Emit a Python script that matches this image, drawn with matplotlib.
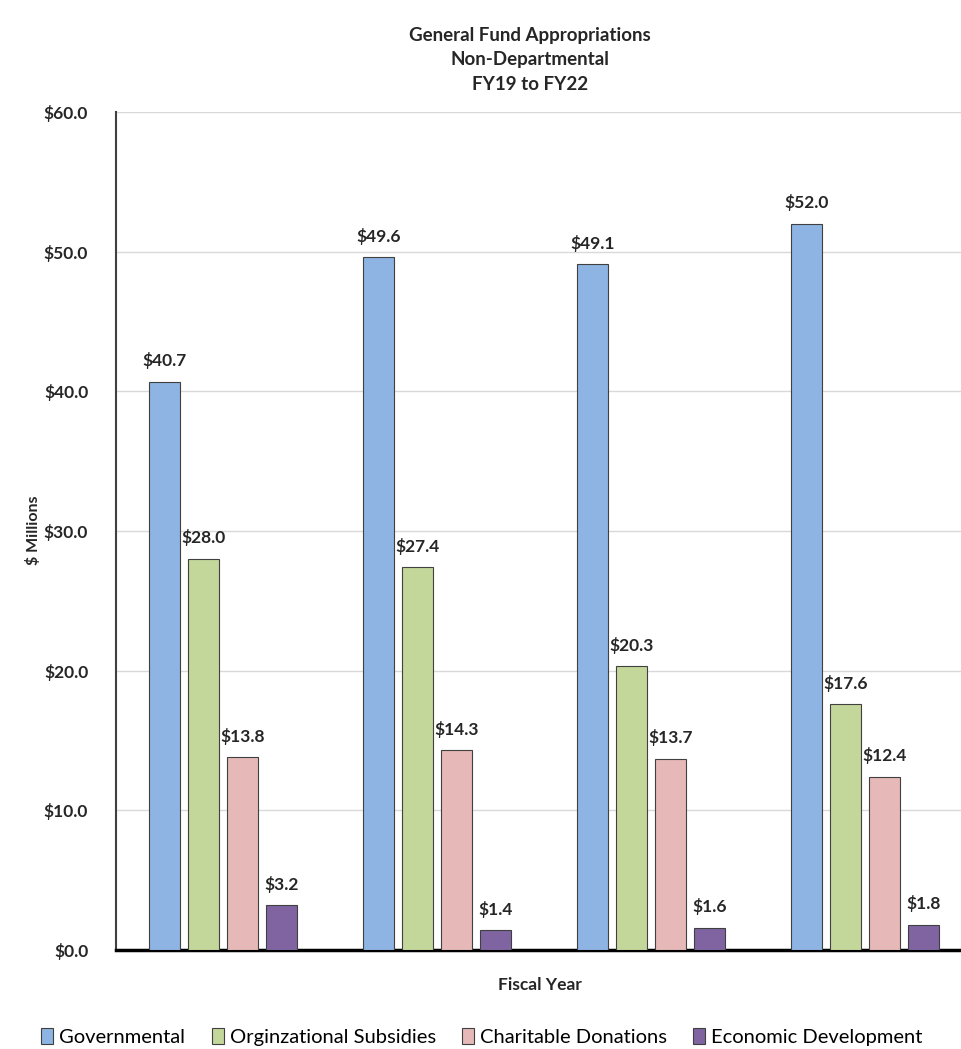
import numpy as np
import matplotlib.pyplot as plt
from matplotlib.ticker import FuncFormatter

plt.rcParams['font.family'] = ['Lato', 'DejaVu Sans']

years = ["FY19", "FY20", "FY21", "FY22"]
series = ["Governmental", "Orginzational Subsidies", "Charitable Donations", "Economic Development"]
governmental = [40.7, 49.6, 49.1, 52.0]
subsidies = [28.0, 27.4, 20.3, 17.6]
donations = [13.8, 14.3, 13.7, 12.4]
econ_dev = [3.2, 1.4, 1.6, 1.8]
colors = ["#8DB4E2", "#C4D79B", "#E6B9B8", "#8064A2"]


def main():
    fig = plt.figure(figsize=(9.61, 10.49), dpi=100)
    ax = fig.add_axes([116 / 961, 1 - 950 / 1049, (972 - 116) / 961, (950 - 112) / 1049])

    x = np.arange(len(years))
    width = 0.145
    step = 0.182
    values = [governmental, subsidies, donations, econ_dev]
    for i, (name, vals, c) in enumerate(zip(series, values, colors)):
        pos = x + (i - 1.5) * step
        bars = ax.bar(pos, vals, width, color=c, edgecolor="#404040", linewidth=0.8,
                      label=name, zorder=3)
        for b, v in zip(bars, vals):
            ax.text(b.get_x() + b.get_width() / 2, v + 0.9, f"${v:.1f}",
                    ha="center", va="bottom", fontsize=12.5, fontweight="bold",
                    color="#262626")

    ax.set_xlim(-0.5, 3.5)
    ax.set_ylim(0, 60)
    ax.set_yticks(np.arange(0, 61, 10))
    ax.yaxis.set_major_formatter(FuncFormatter(lambda v, p: f"${v:.1f}"))
    ax.set_xticks([])
    ax.tick_params(axis="y", length=0, pad=20, labelsize=12.5)
    for lbl in ax.get_yticklabels():
        lbl.set_fontweight("bold")
        lbl.set_color("#262626")
    ax.grid(axis="y", color="#D9D9D9", linewidth=1, zorder=0)
    ax.spines["top"].set_visible(False)
    ax.spines["right"].set_visible(False)
    ax.spines["left"].set_color("#404040")
    ax.spines["left"].set_linewidth(1.5)
    ax.spines["bottom"].set_color("black")
    ax.spines["bottom"].set_linewidth(2.5)

    fig.text(0.5 * (116 + 972) / 961 - 0.015, 1 - 60 / 1049,
             "General Fund Appropriations\nNon-Departmental\nFY19 to FY22",
             ha="center", va="center", fontsize=13.5, fontweight="bold",
             color="#262626", linespacing=1.5)
    fig.text(33 / 961, 1 - 530 / 1049, "$ Millions", rotation=90, ha="center",
             va="center", fontsize=11.5, fontweight="bold", color="#262626")
    fig.text(540 / 961, 1 - 985 / 1049, "Fiscal Year", ha="center", va="center",
             fontsize=12.5, fontweight="bold", color="#262626")

    fig.legend(loc="center", bbox_to_anchor=(482 / 961, 1 - 1037 / 1049), ncol=4,
               frameon=False, fontsize=14.5, handlelength=0.6, handleheight=0.8,
               handletextpad=0.3, columnspacing=1.3)

    fig.savefig("out.png", dpi=100)


if __name__ == "__main__":
    main()
